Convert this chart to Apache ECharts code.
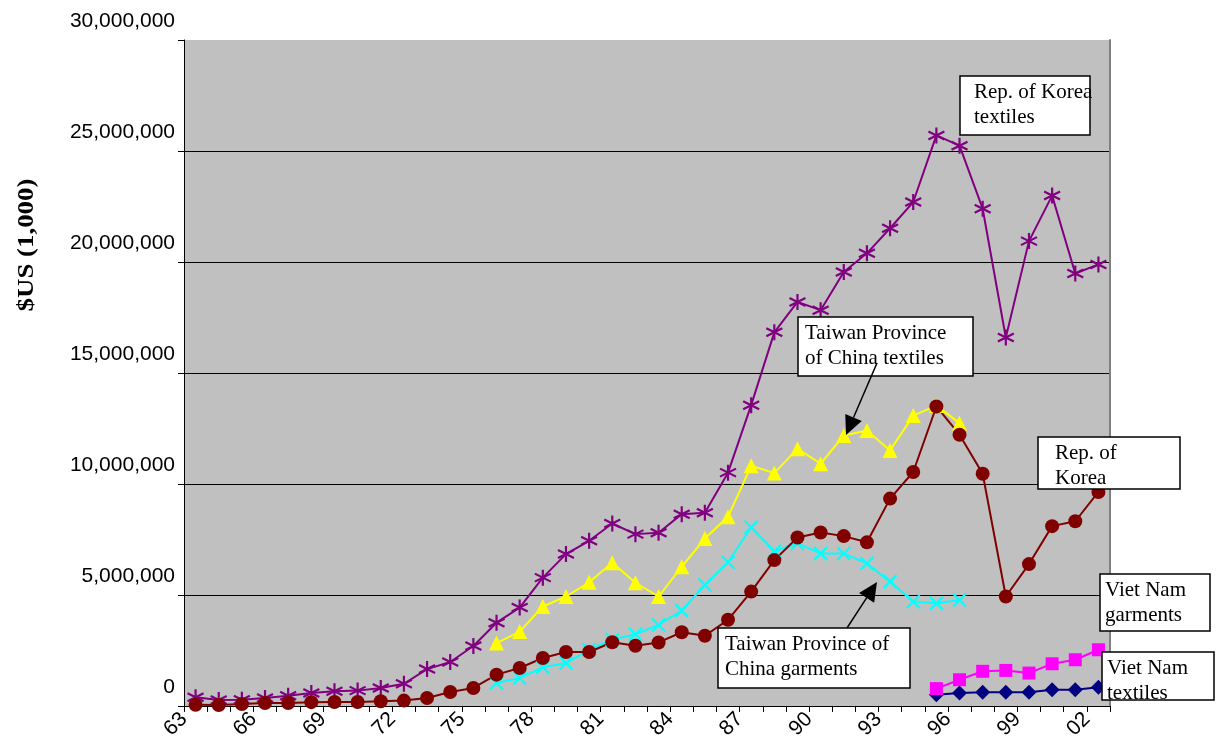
<!DOCTYPE html>
<html>
<head>
<meta charset="utf-8">
<script src="https://cdn.jsdelivr.net/npm/echarts@6/dist/echarts.min.js"></script>
<style>
html, body { margin: 0; padding: 0; background: #ffffff; }
#chart { width: 1221px; height: 742px; }
</style>
</head>
<body>
<div id="chart"></div>
<script>
// Year labels (two-digit), one per category slot
const years = ['63','64','65','66','67','68','69','70','71','72','73','74','75','76','77','78','79',
  '80','81','82','83','84','85','86','87','88','89','90','91','92','93','94','95','96','97','98','99',
  '00','01','02'];

// Export values, $US (1,000)
const koreaTextilesStart = '63';
const koreaTextiles = [390000, 270000, 280000, 360000, 460000, 580000, 660000, 690000, 810000, 1000000,
  1660000, 1980000, 2700000, 3750000, 4430000, 5780000, 6840000, 7440000, 8220000, 7740000,
  7800000, 8640000, 8700000, 10510000, 13550000, 16830000, 18200000, 17830000, 19550000, 20390000,
  21520000, 22700000, 25700000, 25240000, 22400000, 16600000, 20940000, 22990000, 19480000, 19890000];

const koreaGarmentsStart = '63';
const koreaGarments = [50000, 40000, 90000, 130000, 130000, 170000, 180000, 180000, 210000, 240000,
  360000, 630000, 810000, 1410000, 1710000, 2160000, 2430000, 2430000, 2870000, 2710000,
  2860000, 3320000, 3160000, 3880000, 5150000, 6570000, 7590000, 7810000, 7650000, 7370000,
  9340000, 10540000, 13490000, 12220000, 10460000, 4930000, 6390000, 8100000, 8320000, 9640000];

const taiwanTextilesStart = '76';
const taiwanTextiles = [2830000, 3350000, 4480000, 4930000, 5570000, 6450000, 5550000, 4930000, 6270000, 7540000,
  8520000, 10820000, 10490000, 11590000, 10910000, 12180000, 12410000, 11510000, 13080000, 13530000, 12740000];

const taiwanGarmentsStart = '76';
const taiwanGarments = [1030000, 1260000, 1740000, 1930000, 2530000, 2980000, 3230000, 3650000, 4300000, 5450000,
  6470000, 8050000, 6970000, 7320000, 6870000, 6870000, 6420000, 5600000, 4700000, 4630000, 4770000];

const vietNamGarmentsStart = '95';
const vietNamGarments = [780000, 1180000, 1560000, 1600000, 1480000, 1900000, 2080000, 2530000];

const vietNamTextilesStart = '95';
const vietNamTextiles = [500000, 580000, 620000, 620000, 620000, 730000, 730000, 840000];

// Y axis range
const yMax = 30000000;
const yStep = 5000000;

// Each year occupies one unit on the x scale; marks sit in the middle of their slot
function toPoints(values, start) {
  const first = years.indexOf(start);
  return values.map((v, k) => [first + k + 0.5, v]);
}

const SERIF = '"Liberation Serif", "Times New Roman", serif';
const SANS = '"Liberation Sans", Arial, sans-serif';

const asterisk = 'path://M8,0L8,16M1,4L15,12M1,12L15,4';
const xMark = 'path://M0,0L14,14M0,14L14,0';

function lineSeries(name, values, start, color, symbol, size, stroked) {
  return {
    name: name,
    type: 'line',
    data: toPoints(values, start),
    symbol: symbol,
    symbolSize: size,
    showAllSymbol: true,
    lineStyle: { color: color, width: 2 },
    itemStyle: stroked
      ? { color: color, borderColor: color, borderWidth: 2.2 }
      : { color: color, borderWidth: 0 },
    emphasis: { disabled: true },
    animation: false
  };
}

const chart = echarts.init(document.getElementById('chart'), null, { renderer: 'canvas' });

// Callout boxes and arrows
const callouts = [
  { lines: ['Rep. of Korea', 'textiles'], x: 960, y: 76, w: 130, h: 59, tx: 974 },
  { lines: ['Taiwan Province', 'of China textiles'], x: 798, y: 317, w: 175, h: 59, tx: 805 },
  { lines: ['Taiwan Province of', 'China garments'], x: 718, y: 628, w: 192, h: 60, tx: 725 },
  { lines: ['Rep. of', 'Korea'], x: 1038, y: 437, w: 142, h: 52, tx: 1055 },
  { lines: ['Viet Nam', 'garments'], x: 1100, y: 574, w: 110, h: 57, tx: 1105 },
  { lines: ['Viet Nam', 'textiles'], x: 1102, y: 652, w: 112, h: 48, tx: 1107 }
];
const arrows = [
  { from: [877, 363], to: [846, 435] },
  { from: [847, 628], to: [877, 582] }
];

const graphics = [];
graphics.push({
  type: 'text',
  x: 27, y: 245,
  rotation: Math.PI / 2,
  scaleX: 1.12,
  style: {
    text: '$US (1,000)',
    font: 'bold 24px ' + SERIF,
    fill: '#000',
    align: 'center',
    verticalAlign: 'middle'
  },
  z: 100
});
callouts.forEach(c => {
  graphics.push({
    type: 'rect',
    shape: { x: c.x, y: c.y, width: c.w, height: c.h },
    style: { fill: '#ffffff', stroke: '#000000', lineWidth: 1.5 },
    z: 100
  });
  graphics.push({
    type: 'text',
    x: c.tx, y: c.y + 4,
    style: {
      text: c.lines.join('\n'),
      font: '21px ' + SERIF,
      lineHeight: 25,
      fill: '#000',
      align: 'left',
      verticalAlign: 'top'
    },
    z: 101
  });
});
arrows.forEach(a => {
  const dx = a.to[0] - a.from[0], dy = a.to[1] - a.from[1];
  const len = Math.sqrt(dx * dx + dy * dy);
  const ux = dx / len, uy = dy / len;
  const L = 19, W = 18;
  const bx = a.to[0] - ux * L, by = a.to[1] - uy * L;
  graphics.push({
    type: 'line',
    shape: { x1: a.from[0], y1: a.from[1], x2: bx, y2: by },
    style: { stroke: '#000', lineWidth: 1.5 },
    z: 102
  });
  graphics.push({
    type: 'polygon',
    shape: { points: [a.to, [bx - uy * W / 2, by + ux * W / 2], [bx + uy * W / 2, by - ux * W / 2]] },
    style: { fill: '#000' },
    z: 102
  });
});

chart.setOption({
  animation: false,
  backgroundColor: '#ffffff',
  grid: {
    left: 184, right: 111, top: 40, bottom: 34,
    show: true, backgroundColor: '#c0c0c0', borderWidth: 0
  },
  xAxis: {
    type: 'value',
    min: 0,
    max: years.length,
    interval: 1,
    splitLine: { show: false },
    axisLine: { show: true, onZero: false, lineStyle: { color: '#000', width: 1 } },
    axisTick: { show: true, inside: false, length: 6, lineStyle: { color: '#000', width: 1 } },
    axisLabel: {
      rotate: 45,
      margin: 10,
      fontFamily: SANS,
      fontSize: 21,
      color: '#000',
      formatter: v => (v % 3 === 0 && v < years.length) ? years[v] : ''
    }
  },
  yAxis: [{
    type: 'value',
    min: 0,
    max: yMax,
    interval: yStep,
    axisLine: { show: true, lineStyle: { color: '#000', width: 1 } },
    axisTick: { show: true, inside: false, length: 6, lineStyle: { color: '#000', width: 1 } },
    splitLine: { show: true, showMaxLine: false, lineStyle: { color: '#000', width: 1 } },
    axisLabel: {
      margin: 9,
      fontFamily: SANS,
      fontSize: 21,
      color: '#000',
      verticalAlign: 'bottom',
      padding: [0, 0, 8, 0],
      formatter: v => v.toLocaleString('en-US')
    }
  }, {
    type: 'value',
    position: 'right',
    min: 0,
    max: yMax,
    interval: yStep,
    axisLine: { show: true, lineStyle: { color: '#808080', width: 2 } },
    axisTick: { show: false },
    axisLabel: { show: false },
    splitLine: { show: false }
  }],
  series: [
    lineSeries('Viet Nam textiles', vietNamTextiles, vietNamTextilesStart, '#000080', 'diamond', 15, false),
    lineSeries('Viet Nam garments', vietNamGarments, vietNamGarmentsStart, '#ff00ff', 'rect', 13, false),
    lineSeries('Taiwan Province of China garments', taiwanGarments, taiwanGarmentsStart, '#00ffff', xMark, 13, true),
    lineSeries('Taiwan Province of China textiles', taiwanTextiles, taiwanTextilesStart, '#ffff00', 'triangle', 15, false),
    lineSeries('Rep. of Korea textiles', koreaTextiles, koreaTextilesStart, '#800080', asterisk, 16, true),
    lineSeries('Rep. of Korea', koreaGarments, koreaGarmentsStart, '#800000', 'circle', 14, false)
  ],
  graphic: graphics
});
</script>
</body>
</html>
